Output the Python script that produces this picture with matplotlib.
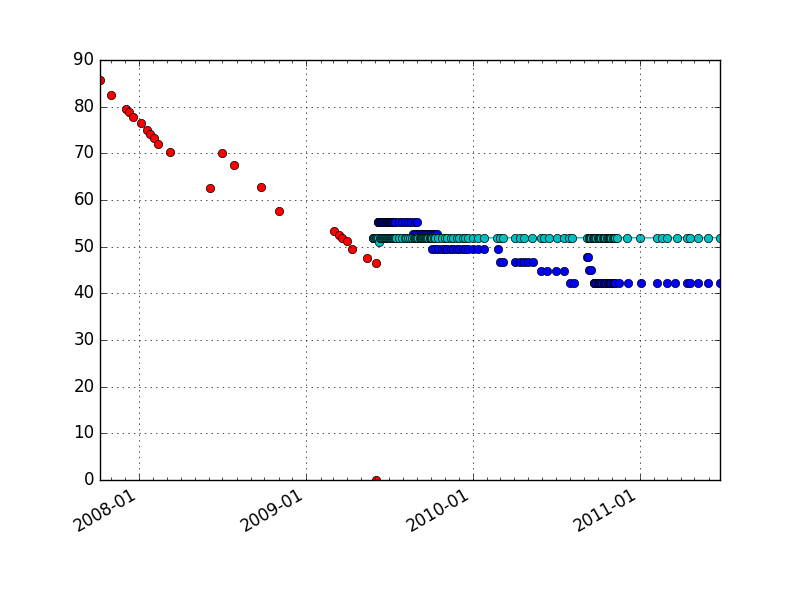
import matplotlib
matplotlib.use('Agg')
import matplotlib.pyplot as plt
import matplotlib.dates as mdates
import pandas as pd

# red series
red_dates = ['2007-10-07', '2007-10-31', '2007-12-03', '2007-12-10', '2007-12-19',
             '2008-01-04', '2008-01-19', '2008-01-24', '2008-02-03', '2008-02-12',
             '2008-03-09', '2008-06-03', '2008-07-01', '2008-07-27', '2008-09-23',
             '2008-11-01', '2009-03-03', '2009-03-13', '2009-03-20', '2009-03-30',
             '2009-04-12', '2009-05-14', '2009-06-02', '2009-06-02']
red_values = [85.7, 82.5, 79.6, 78.8, 77.7,
              76.6, 75.0, 74.1, 73.2, 72.1,
              70.2, 62.5, 70.0, 67.4, 62.7,
              57.6, 53.4, 52.5, 51.9, 51.3,
              49.6, 47.5, 46.6, 0.0]

# blue series, one list of dates per level
blue_552 = ['2009-06-06', '2009-06-08', '2009-06-10', '2009-06-12', '2009-06-14',
            '2009-06-16', '2009-06-18', '2009-06-20', '2009-06-22', '2009-06-24',
            '2009-06-26', '2009-06-28', '2009-06-30', '2009-07-02', '2009-07-04',
            '2009-07-06', '2009-07-08', '2009-07-10', '2009-07-12', '2009-07-15',
            '2009-07-22', '2009-07-29', '2009-08-05', '2009-08-12', '2009-08-19',
            '2009-08-26', '2009-09-01']
blue_527 = ['2009-08-23', '2009-08-27', '2009-08-31', '2009-09-04', '2009-09-08',
            '2009-09-12', '2009-09-16', '2009-09-20', '2009-09-24', '2009-09-28',
            '2009-10-02', '2009-10-06', '2009-10-10', '2009-10-14']
blue_496 = ['2009-10-04', '2009-10-10', '2009-10-17', '2009-10-24', '2009-10-31',
            '2009-11-06', '2009-11-13', '2009-11-19', '2009-11-26', '2009-12-02',
            '2009-12-09', '2009-12-15', '2009-12-22', '2009-12-31', '2010-01-11',
            '2010-01-24', '2010-02-24']
blue_468 = ['2010-03-02', '2010-03-08', '2010-04-04', '2010-04-13', '2010-04-22',
            '2010-05-02', '2010-05-12']
blue_448 = ['2010-05-29', '2010-06-12', '2010-07-02', '2010-07-19']
blue_423 = ['2010-08-01', '2010-08-10']
blue_477 = ['2010-09-07', '2010-09-10']
blue_450 = ['2010-09-11', '2010-09-17']
blue_422 = ['2010-09-22', '2010-09-24', '2010-09-26', '2010-09-28', '2010-10-01',
            '2010-10-03', '2010-10-05', '2010-10-07', '2010-10-09', '2010-10-11',
            '2010-10-14', '2010-10-16', '2010-10-18', '2010-10-20', '2010-10-23',
            '2010-10-25', '2010-10-27', '2010-10-29', '2010-10-31', '2010-11-03',
            '2010-11-05', '2010-11-09', '2010-11-16', '2010-12-06', '2011-01-03',
            '2011-02-09', '2011-03-02', '2011-03-20', '2011-04-15', '2011-04-22',
            '2011-05-08', '2011-05-31', '2011-06-26']

# cyan series
cyan_dates = ['2009-05-26', '2009-05-28', '2009-05-30', '2009-06-01', '2009-06-03',
              '2009-06-05', '2009-06-07', '2009-06-10', '2009-06-12', '2009-06-14',
              '2009-06-16', '2009-06-18', '2009-06-21', '2009-06-23', '2009-06-25',
              '2009-06-27', '2009-06-29', '2009-07-01', '2009-07-04', '2009-07-06',
              '2009-07-08', '2009-07-10', '2009-07-13', '2009-07-15', '2009-07-17',
              '2009-07-23', '2009-07-30', '2009-08-04', '2009-08-08', '2009-08-12',
              '2009-08-17', '2009-08-21', '2009-08-25', '2009-08-27', '2009-08-30',
              '2009-09-01', '2009-09-03', '2009-09-06', '2009-09-08', '2009-09-10',
              '2009-09-12', '2009-09-14', '2009-09-16', '2009-09-18', '2009-09-21',
              '2009-09-23', '2009-09-25', '2009-09-28', '2009-09-30', '2009-10-02',
              '2009-10-04', '2009-10-07', '2009-10-10', '2009-10-17', '2009-10-24',
              '2009-10-31', '2009-11-06', '2009-11-13', '2009-11-19', '2009-11-26',
              '2009-12-02', '2009-12-09', '2009-12-15', '2009-12-22', '2009-12-31',
              '2010-01-11', '2010-01-24',
              '2010-02-23', '2010-03-01', '2010-03-08', '2010-04-04', '2010-04-13',
              '2010-04-22', '2010-05-10', '2010-05-29', '2010-06-05', '2010-06-16',
              '2010-07-03', '2010-07-19', '2010-07-30', '2010-08-06', '2010-09-08',
              '2010-09-11', '2010-09-13', '2010-09-15', '2010-09-17', '2010-09-20',
              '2010-09-22', '2010-09-24', '2010-09-26', '2010-09-28', '2010-10-01',
              '2010-10-03', '2010-10-05', '2010-10-07', '2010-10-09', '2010-10-12',
              '2010-10-14', '2010-10-16', '2010-10-18', '2010-10-21', '2010-10-23',
              '2010-10-25', '2010-10-27', '2010-10-29', '2010-10-31', '2010-11-03',
              '2010-11-05', '2010-11-07', '2010-11-09', '2010-11-13',
              '2010-12-05', '2011-01-02', '2011-02-08', '2011-02-19', '2011-03-02',
              '2011-03-23', '2011-04-15', '2011-04-22', '2011-05-08', '2011-05-31',
              '2011-06-26']
cyan_level = 51.9
cyan_dip_date = '2009-06-10'
cyan_dip_value = 50.9

plt.style.use('classic')

red = pd.Series(red_values, index=pd.to_datetime(red_dates))

blue_levels = [(blue_552, 55.2), (blue_527, 52.7), (blue_496, 49.6), (blue_468, 46.8),
               (blue_448, 44.8), (blue_423, 42.3), (blue_477, 47.7), (blue_450, 45.0),
               (blue_422, 42.2)]
b_dates = []
b_vals = []
for dates, level in blue_levels:
    b_dates += dates
    b_vals += [level] * len(dates)
blue = pd.Series(b_vals, index=pd.to_datetime(b_dates))

cyan = pd.Series([cyan_level] * len(cyan_dates), index=pd.to_datetime(cyan_dates))
cyan[pd.Timestamp(cyan_dip_date)] = cyan_dip_value

fig = plt.figure(figsize=(8, 6), dpi=100)
ax = fig.add_subplot(111)

ax.plot(red.index, red.values, 'ro', mec='k', mew=0.5)
ax.plot(blue.index, blue.values, 'bo', mec='k', mew=0.5)
ax.plot(cyan.index, cyan.values, 'c-o', mec='k', mew=0.5)

ax.xaxis.set_major_locator(mdates.YearLocator())
ax.xaxis.set_minor_locator(mdates.MonthLocator())
ax.xaxis.set_major_formatter(mdates.DateFormatter('%Y-%m'))

start = min(red.index.min(), blue.index.min(), cyan.index.min())
end = max(red.index.max(), blue.index.max(), cyan.index.max())
ax.set_xlim(start, end)
ax.set_ylim(0, 90)
ax.grid(True)

fig.autofmt_xdate()
fig.savefig('out.png', dpi=100, facecolor='white')
